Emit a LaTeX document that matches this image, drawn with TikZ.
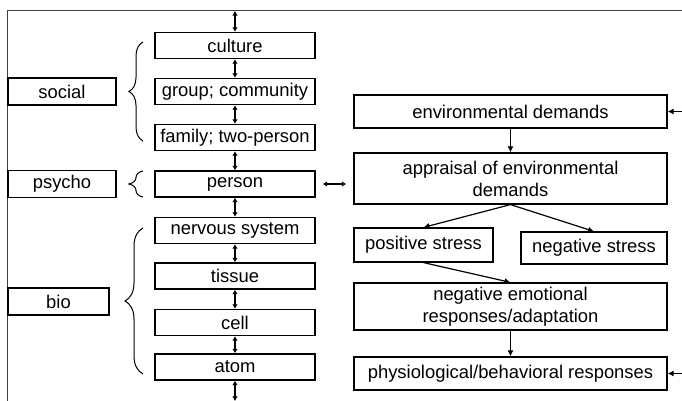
\documentclass[tikz,border=0pt]{standalone}
\usepackage{fontspec}
\setmainfont{Liberation Sans}
\usetikzlibrary{decorations.pathreplacing,arrows.meta}

\begin{document}
\begin{tikzpicture}[x=0.5pt,y=-0.5pt,
     box/.style={draw, line width=0.6pt, inner sep=0pt, align=center, font=\fontsize{9.2}{11}\selectfont},
     lvl/.style={box, minimum width=80pt, minimum height=13pt},
     wide/.style={box, minimum width=156.5pt},
     link/.style={<->,>={Latex[length=2.3pt,width=2.8pt]}, line width=0.8pt},
     flow/.style={->,>={Latex[length=3pt,width=3pt]}, line width=0.6pt},
     brc/.style={decorate, decoration={brace,amplitude=7pt}, line width=0.5pt}]
\useasboundingbox (0,0) rectangle (682,401);
     \draw[line width=0.5pt, black!75] (682,11)--(8,11)--(8,401);

% levels
     \node[lvl] (culture) at (235,45.5) {culture};
     \node[lvl] (group) at (235,91.5) {group; community};
     \node[lvl] (family) at (235,137.5) {family; two-person};
     \node[lvl] (person) at (235,184) {person};
     \node[lvl] (nervous) at (235,230.5) {nervous system};
     \node[lvl] (tissue) at (235,276) {tissue};
     \node[lvl] (cell) at (235,322.5) {cell};
     \node[lvl] (atom) at (235,367) {atom};
     \coordinate (top) at (235,11);
     \coordinate (bottom) at (235,401);
     \draw[link] (top)--(culture);
     \foreach \a/\b in {culture/group, group/family, family/person, person/nervous,
                        nervous/tissue, tissue/cell, cell/atom}
          \draw[link] (\a)--(\b);
     \draw[link] (atom)--(bottom);

% domains
     \node[box, minimum width=54pt, minimum height=13.5pt] (social) at (62,91.5) {social};
     \node[box, minimum width=54pt, minimum height=13.5pt] (psycho) at (62,184) {psycho};
     \node[box, minimum width=50.5pt, minimum height=13.5pt] (bio) at (58.5,301.5) {bio};
     \draw[brc] (143,141)--(143,42);
     \draw[brc] (143,197)--(143,171);
     \draw[brc, decoration={amplitude=9pt}] (143,374)--(143,228);

% stress
     \node[wide, minimum height=16.5pt] (env) at (510.5,111.5) {environmental demands};
     \node[wide, minimum height=25.5pt] (appraisal) at (510.5,178.5) {appraisal of environmental\\demands};
     \node[box, minimum width=69.5pt, minimum height=17pt] (positive) at (423.5,245) {positive stress};
     \node[box, minimum width=73pt, minimum height=16pt] (negative) at (594,248) {negative stress};
     \node[wide, minimum height=23.5pt] (emotion) at (510.5,306.5) {negative emotional\\responses/adaptation};
     \node[wide, minimum height=16.5pt] (physio) at (510.5,373.5) {physiological/behavioral responses};
     \coordinate (inEnv) at (682,111.5);
     \coordinate (inPhysio) at (682,373.5);
     \draw[flow] (inEnv)--(env);
     \draw[flow] (env)--(appraisal);
     \draw[flow] (appraisal.south)--(positive.north);
     \draw[flow] (appraisal.south)--(negative.north);
     \draw[flow] (positive.south)--(emotion.north);
     \draw[flow] (emotion)--(physio);
     \draw[flow] (inPhysio)--(physio);
     \draw[link, shorten <=3.5pt, shorten >=3.5pt] (person.east)--(person.east -| appraisal.west);
\end{tikzpicture}
\end{document}
